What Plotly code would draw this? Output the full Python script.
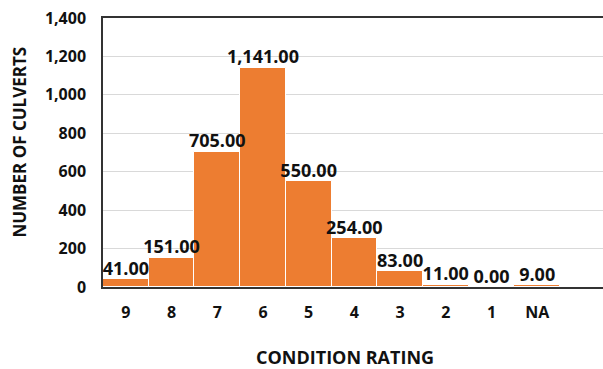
import plotly.graph_objects as go

ratings = ["9", "8", "7", "6", "5", "4", "3", "2", "1", "NA"]
culverts = [41, 151, 705, 1141, 550, 254, 83, 11, 0, 9]
y_ticks = [0, 200, 400, 600, 800, 1000, 1200, 1400]

FONT = "Open Sans"
INK = "#111111"

fig = go.Figure()

# Bars
fig.add_trace(
    go.Bar(
        x=ratings,
        y=culverts,
        marker=dict(color="#ED7D31", line=dict(color="#FFFFFF", width=1)),
        hoverinfo="x+y",
    )
)

# Value labels drawn as a separate text layer so neighbouring bars never cover them
fig.add_trace(
    go.Scatter(
        x=ratings,
        y=culverts,
        mode="text",
        text=[f"{v:,.2f}" for v in culverts],
        textposition="top center",
        textfont=dict(family=FONT, size=18, color=INK, weight="bold"),
        cliponaxis=False,
        hoverinfo="skip",
    )
)

fig.update_layout(
    width=603,
    height=369,
    margin=dict(l=103, r=0, t=18, b=82),
    paper_bgcolor="white",
    plot_bgcolor="white",
    bargap=0.0,
    showlegend=False,
    font=dict(family=FONT, color=INK),
)

fig.update_xaxes(
    type="category",
    categoryorder="array",
    categoryarray=ratings,
    range=[-0.5, 10.44],
    showline=True,
    linecolor="#333333",
    linewidth=1.5,
    mirror=True,
    ticks="",
    ticklabelstandoff=10,
    tickfont=dict(family=FONT, size=16, color=INK, weight="bold"),
    showgrid=False,
    zeroline=False,
)

fig.update_yaxes(
    range=[0, 1400],
    tickvals=y_ticks,
    ticktext=[f"{v:,}" for v in y_ticks],
    showline=True,
    linecolor="#333333",
    linewidth=1.5,
    mirror=False,
    ticks="",
    ticklabelstandoff=12,
    tickfont=dict(family=FONT, size=16, color=INK, weight="bold"),
    showgrid=True,
    gridcolor="#D9D9D9",
    gridwidth=1,
    zeroline=False,
)

fig.add_annotation(
    text="NUMBER OF CULVERTS",
    xref="paper", yref="paper",
    x=-103 / 503, y=0.5,
    xanchor="left", yanchor="middle",
    xshift=5, yshift=10,
    textangle=-90,
    showarrow=False,
    font=dict(family=FONT, size=17, color=INK, weight="bold"),
)

fig.add_annotation(
    text="CONDITION RATING",
    xref="paper", yref="paper",
    x=(345 - 103) / 500, y=0,
    xanchor="center", yanchor="middle",
    yshift=-70,
    showarrow=False,
    font=dict(family=FONT, size=18, color=INK, weight="bold"),
)

fig.write_html("out.html")
